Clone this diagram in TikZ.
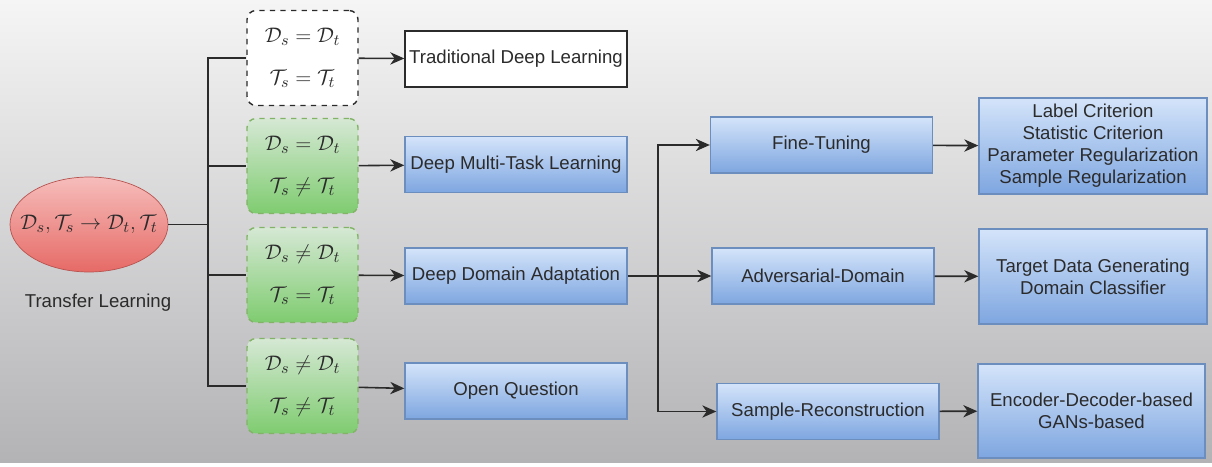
\documentclass[tikz,border=0pt]{standalone}
\usepackage{fontspec}
\setmainfont{Liberation Sans}
\usepackage{tikz}
\usetikzlibrary{positioning, shapes.geometric, arrows.meta, calc}

\definecolor{bgtop}{HTML}{F5F5F5}
\definecolor{bgbot}{HTML}{B3B3B6}
\definecolor{bluetop}{HTML}{D4E4FA}
\definecolor{bluebot}{HTML}{7EA6E0}
\definecolor{blueline}{HTML}{6C8EBF}
\definecolor{greentop}{HTML}{D5E8D4}
\definecolor{greenbot}{HTML}{7FCC70}
\definecolor{greenline}{HTML}{82B366}
\definecolor{redtop}{HTML}{F6BDBB}
\definecolor{redbot}{HTML}{E66A66}
\definecolor{redline}{HTML}{B85450}
\definecolor{ink}{HTML}{2B2B2B}

\newcommand{\boxfont}{\fontsize{10.6}{12.5}\selectfont}
\newcommand{\mathfont}{\fontsize{13}{15}\selectfont}
\newcommand{\condfont}{\fontsize{12.8}{24}\selectfont}

\begin{document}
\begin{tikzpicture}[x=0.02cm, y=-0.02cm,
  box/.style={rectangle, draw=blueline, thick, top color=bluetop, bottom color=bluebot, minimum width=4.44cm, minimum height=1.12cm, inner sep=1pt, font=\boxfont, align=center, text=ink},
  plain/.style={rectangle, draw=ink, thick, fill=white, minimum width=4.44cm, minimum height=1.12cm, inner sep=1pt, font=\boxfont, text=ink},
  cond/.style={rectangle, rounded corners=0.18cm, dashed, thick, minimum width=2.22cm, minimum height=1.9cm, font=\condfont, align=center, text=ink},
  arr/.style={-{Stealth[length=8pt, width=7pt, inset=2.5pt]}, line width=0.9pt, draw=ink},
  line/.style={line width=0.9pt, draw=ink},
]
  \useasboundingbox (0,0) rectangle (1212,466);
  \shade[top color=bgtop, bottom color=bgbot] (0,0) rectangle (1212,462);

  % source
  \node[ellipse, draw=redline, top color=redtop, bottom color=redbot, minimum width=3.16cm, minimum height=1.9cm, inner sep=0pt, font=\mathfont, text=ink] (tl) at (89, 224.5) {\makebox[2.2cm]{$\mathcal{D}_s,\mathcal{T}_s\rightarrow\mathcal{D}_t,\mathcal{T}_t$}};
  \node[font=\boxfont, text=ink] (tllbl) at (98, 303) {Transfer Learning};
  \coordinate (split) at (208, 224.5);

  % settings
  \node[cond, draw=ink, fill=white] (same) at (302.5, 58) {$\mathcal{D}_s=\mathcal{D}_t$\\$\mathcal{T}_s=\mathcal{T}_t$};
  \node[cond, draw=greenline, top color=greentop, bottom color=greenbot] (task) at (302.5, 166) {$\mathcal{D}_s=\mathcal{D}_t$\\$\mathcal{T}_s\neq\mathcal{T}_t$};
  \node[cond, draw=greenline, top color=greentop, bottom color=greenbot] (dom) at (302.5, 275) {$\mathcal{D}_s\neq\mathcal{D}_t$\\$\mathcal{T}_s=\mathcal{T}_t$};
  \node[cond, draw=greenline, top color=greentop, bottom color=greenbot] (both) at (302.5, 386) {$\mathcal{D}_s\neq\mathcal{D}_t$\\$\mathcal{T}_s\neq\mathcal{T}_t$};

  % methods
  \node[plain] (trad) at (516, 59) {Traditional Deep Learning};
  \node[box] (mtl) at (516, 164.5) {Deep Multi-Task Learning};
  \node[box] (dda) at (516, 276) {Deep Domain Adaptation};
  \node[box] (open) at (516, 391) {Open Question};
  \coordinate (split2) at (658, 276);

  % adaptation families
  \node[box] (ft) at (821.5, 145) {Fine-Tuning};
  \node[box] (adv) at (823, 276) {Adversarial-Domain};
  \node[box] (rec) at (828, 411.5) {Sample-Reconstruction};

  \node[box, minimum width=4.56cm, minimum height=1.92cm] (ftout) at (1093, 146) {Label Criterion\\Statistic Criterion\\Parameter Regularization\\Sample Regularization};
  \node[box, minimum width=4.56cm, minimum height=1.9cm] (advout) at (1093, 276.5) {Target Data Generating\\Domain Classifier};
  \node[box, minimum width=4.54cm, minimum height=1.88cm] (recout) at (1091.5, 411) {Encoder-Decoder-based\\GANs-based};

  \draw[line] (tl.east) -- (split) |- (same.west);
  \draw[line] (split) |- (task.west);
  \draw[line] (split) |- (dom.west);
  \draw[line] (split) |- (both.west);

  \draw[arr] (same) -- (trad);
  \draw[arr] (task) -- (mtl);
  \draw[arr] (dom) -- (dda);
  \draw[arr] (both) -- (open);

  \draw[arr] (dda.east) -- (split2) |- (ft.west);
  \draw[arr] (split2) -- (adv.west);
  \draw[arr] (split2) |- (rec.west);

  \draw[arr] (ft) -- (ftout);
  \draw[arr] (adv) -- (advout);
  \draw[arr] (rec) -- (recout);
\end{tikzpicture}
\end{document}
